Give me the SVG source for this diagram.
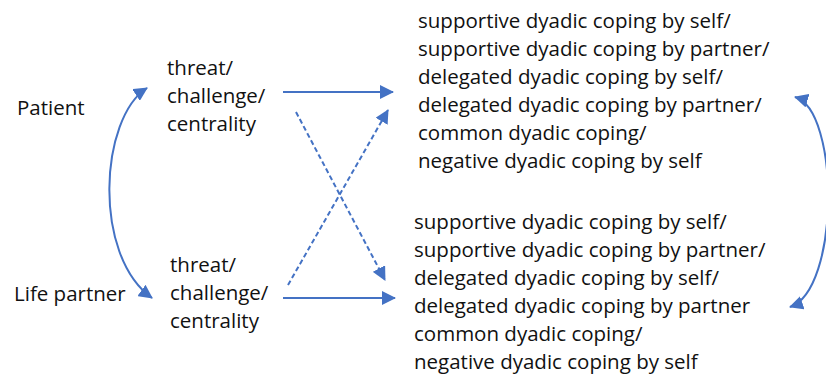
<svg xmlns="http://www.w3.org/2000/svg" width="826" height="378" viewBox="0 0 826 378">
<defs>
<style>
text{font-family:"Open Sans","Liberation Sans",sans-serif;font-size:20.5px;fill:#111}
.c{fill:none;stroke:#4472C4;stroke-width:2}
.d{stroke-dasharray:5 3}
</style>
<marker id="ah" markerUnits="userSpaceOnUse" markerWidth="14" markerHeight="14" refX="13" refY="7" orient="auto-start-reverse" viewBox="0 0 14 14">
<path d="M0,0 L14,7 L0,14 z" fill="#4472C4"/>
</marker>
</defs>
<rect width="826" height="378" fill="#fff"/>
<g id="patient"><text x="17" y="115">Patient</text></g>
<g id="life-partner"><text x="14" y="301">Life partner</text></g>
<g id="patient-appraisal">
<text x="167" y="75">threat/</text>
<text x="167" y="103">challenge/</text>
<text x="167" y="131">centrality</text>
</g>
<g id="partner-appraisal">
<text x="170" y="272">threat/</text>
<text x="170" y="300">challenge/</text>
<text x="170" y="328">centrality</text>
</g>
<g id="patient-coping">
<text x="418" y="28">supportive dyadic coping by self/</text>
<text x="418" y="56">supportive dyadic coping by partner/</text>
<text x="418" y="84">delegated dyadic coping by self/</text>
<text x="418" y="112">delegated dyadic coping by partner/</text>
<text x="418" y="140">common dyadic coping/</text>
<text x="418" y="168">negative dyadic coping by self</text>
</g>
<g id="partner-coping">
<text x="414" y="229">supportive dyadic coping by self/</text>
<text x="414" y="257">supportive dyadic coping by partner/</text>
<text x="414" y="285">delegated dyadic coping by self/</text>
<text x="414" y="313">delegated dyadic coping by partner</text>
<text x="414" y="341">common dyadic coping/</text>
<text x="414" y="369">negative dyadic coping by self</text>
</g>
<g id="connectors">
<path class="c" d="M283,92 L393,92" marker-end="url(#ah)"/>
<path class="c" d="M283,298 L395,298" marker-end="url(#ah)"/>
<path class="c d" d="M296,112 L385,280" marker-end="url(#ah)"/>
<path class="c d" d="M288,285 L388,110" marker-end="url(#ah)"/>
<path class="c" d="M147,88 C100,118 92,255 152,298" marker-start="url(#ah)" marker-end="url(#ah)"/>
<path class="c" d="M795,97 C840,110 840,290 790,307" marker-start="url(#ah)" marker-end="url(#ah)"/>
</g>
</svg>
